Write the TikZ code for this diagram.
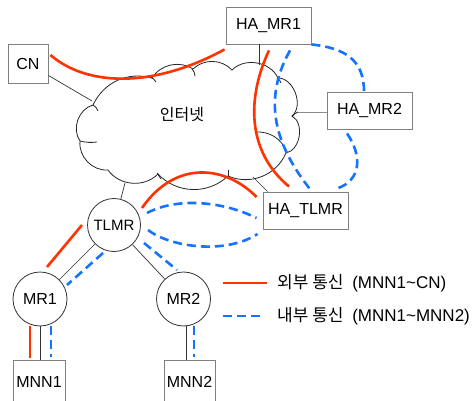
\documentclass[tikz,border=0pt]{standalone}
\usepackage{fontspec}
\setmainfont{Liberation Sans}
\newfontfamily\cjk{Noto Sans CJK KR}
\definecolor{extred}{RGB}{255,51,0}
\definecolor{intblue}{RGB}{20,115,255}
\definecolor{boxgray}{RGB}{128,128,128}
\tikzset{
  lbl/.style={font=\fontsize{16}{19}\selectfont},
  leg/.style={font=\fontsize{17}{20}\selectfont},
  box/.style={lbl, draw=boxgray, line width=0.9pt, fill=white, minimum width=85pt, minimum height=37pt, inner sep=0pt},
  rnode/.style={lbl, circle, draw=black!80, line width=0.8pt, fill=white, minimum size=53pt, inner sep=0pt},
  link/.style={draw=black!80, line width=0.7pt},
  ext/.style={draw=extred, line width=2.6pt},
  int/.style={draw=intblue, line width=2.6pt, dash pattern=on 9pt off 5pt},
  cloudline/.style={draw=black!85, line width=0.8pt},
}
\begin{document}
\begin{tikzpicture}[x=1pt,y=-1pt]
\useasboundingbox (0,0) rectangle (474,401);
% cloud
\draw[cloudline, fill=white] (80,141) to[bend left=55] (93,105) to[bend left=40] (152,78)
  to[bend left=45] (193,69) to[bend left=45] (232,70) to[bend left=55] (278,78)
  to[bend left=70] (292,116) to[bend left=70] (286,153) to[bend left=45] (228,176)
  to[bend left=45] (158,174) to[bend left=50] (108,170) to[bend left=50] cycle;
\draw[cloudline] (80,141) to[bend right=10] (97,142);
\draw[cloudline] (93,105) to[bend left=20] (98,111);
\draw[cloudline] (150,77) to[bend left=20] (156,82);
\draw[cloudline] (192,69) to[bend left=20] (195,76);
\draw[cloudline] (277,78) to[bend left=20] (281,83);
\draw[cloudline] (292,117) to[bend left=20] (298,112);
\draw[cloudline] (255,132) to[bend left=35] (287,152);
\draw[cloudline] (228,170) to[bend left=10] (228,177);
\draw[cloudline] (157,173) to[bend left=10] (161,179);
\node[font={\cjk\fontsize{16}{19}\selectfont}] (net) at (182,115) {인터넷};
% nodes
\node[box, minimum width=40pt, minimum height=39pt] (CN) at (28,63.5) {CN};
\node[box] (HAMR1) at (268.5,25.5) {HA\_MR1};
\node[box] (HAMR2) at (369.5,110.5) {HA\_MR2};
\node[box] (HATLMR) at (305.5,210.5) {HA\_TLMR};
\node[rnode, font=\fontsize{15}{18}\selectfont] (TLMR) at (114,225) {TLMR};
\node[rnode, minimum size=54pt] (MR1) at (40,299) {MR1};
\node[rnode, minimum size=54pt] (MR2) at (183.5,299) {MR2};
\node[box, minimum width=52pt, minimum height=44pt] (MNN1) at (39,382) {MNN1};
\node[box, minimum width=51pt, minimum height=44pt] (MNN2) at (189.5,382) {MNN2};
% cloud attachment points
\coordinate (c-cn) at (92,101);
\coordinate (c-hamr1) at (259,65);
\coordinate (c-hamr2) at (298,112);
\coordinate (c-hatlmr) at (253,177);
\coordinate (c-tlmr) at (125,183);
% black links
\draw[link] (CN) -- (c-cn);
\draw[link] (c-hamr1 |- HAMR1.south) -- (c-hamr1);
\draw[link, draw=black!45] (HAMR2.west |- c-hamr2) -- (c-hamr2);
\draw[link] (c-hatlmr) -- ([shift={(5,0)}]HATLMR.north west);
\draw[link] (c-tlmr) -- (TLMR);
\draw[link] (TLMR) -- (MR1);
\draw[link] (TLMR) -- (MR2);
\draw[link] (MR1) -- (MR1 |- MNN1.north);
\draw[link] ([shift={(2.5,0)}]MR2.south) -- ([shift={(-3.5,0)}]MNN2.north);
% external communication (red)
\draw[ext] ([shift={(2,-8.5)}]CN.east) .. controls (85,85) and (150,90) .. ([shift={(-1,5)}]HAMR1.south west);
\draw[ext] ([shift={(0.5,6)}]HAMR1.south) .. controls (248,95) and (245,150) .. ([shift={(-16.5,-5)}]HATLMR.north);
\draw[ext] ([shift={(-6,-13.5)}]HATLMR.west) .. controls (225,165) and (175,160) .. ([shift={(28,-17)}]TLMR.center);
\draw[ext] ([shift={(-32,0)}]TLMR.center) -- ([shift={(7,-32)}]MR1.center);
\draw[ext] ([shift={(-10,0)}]MR1.south) -- ([shift={(-9,-2)}]MNN1.north);
% internal communication (blue dashed)
\draw[int] (HAMR1.south east) .. controls (345,48) and (364,60) .. ([shift={(-5.5,0)}]HAMR2.north);
\draw[int] ([shift={(21.5,6)}]HAMR1.south) .. controls (265,95) and (270,140) .. ([shift={(6.5,0)}]HATLMR.north);
\draw[int] ([shift={(-22.5,4)}]HAMR2.south) .. controls (362,155) and (362,180) .. ([shift={(31.5,-3)}]HATLMR.north);
\draw[int] ([shift={(33,-12)}]TLMR.center) .. controls (175,198) and (220,200) .. ([shift={(-6,7.5)}]HATLMR.west);
\draw[int] ([shift={(34,5)}]TLMR.center) .. controls (170,247) and (225,255) .. ([shift={(-5,23.5)}]HATLMR.west);
\draw[int] ([shift={(-11,28)}]TLMR.center) -- ([shift={(27,-14)}]MR1.center);
\draw[int] ([shift={(30,18)}]TLMR.center) -- ([shift={(-6.5,-29)}]MR2.center);
\draw[int] ([shift={(11,0)}]MR1.south) -- ([shift={(12,-3)}]MNN1.north);
\draw[int] ([shift={(10.5,0)}]MR2.south) -- ([shift={(4.5,-3)}]MNN2.north);
% legend
\coordinate (l1a) at (223,283); \coordinate (l1b) at (267,283);
\coordinate (l2a) at (223,316); \coordinate (l2b) at (262,316);
\draw[ext] (l1a) -- (l1b);
\draw[int] (l2a) -- (l2b);
\node[leg, anchor=west, inner sep=0pt] (lt1) at (277,283) {{\cjk 외부 통신}\hspace{4pt} (MNN1\textasciitilde CN)};
\node[leg, anchor=west, inner sep=0pt] (lt2) at (277,316) {{\cjk 내부 통신}\hspace{4pt} (MNN1\textasciitilde MNN2)};
\end{tikzpicture}
\end{document}
